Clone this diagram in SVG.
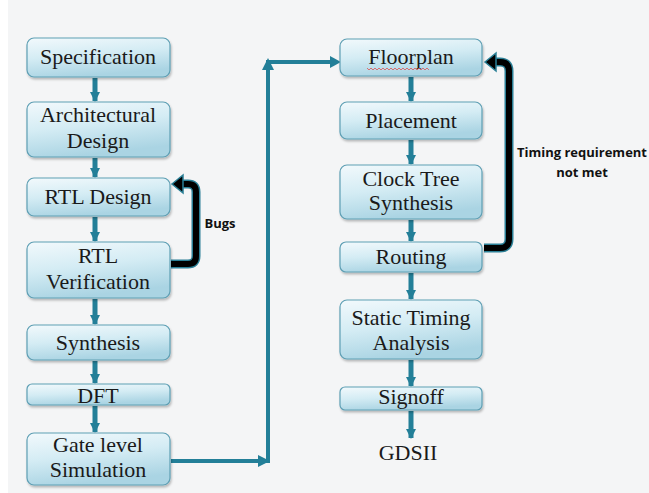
<svg xmlns="http://www.w3.org/2000/svg" width="649" height="493" viewBox="0 0 649 493">
<defs>
<linearGradient id="bg" x1="0" y1="0" x2="0.3" y2="1">
<stop offset="0" stop-color="#f2f9fc"/>
<stop offset="0.5" stop-color="#d4ecf4"/>
<stop offset="1" stop-color="#aad4e3"/>
</linearGradient>
<marker id="ah" viewBox="0 0 10 10" refX="9" refY="5" markerWidth="10" markerHeight="10" markerUnits="userSpaceOnUse" orient="auto">
<path d="M0,0 L10,5 L0,10 z" fill="#237f98"/>
</marker>
<filter id="sh" x="-10%" y="-10%" width="120%" height="130%">
<feDropShadow dx="1" dy="2" stdDeviation="1.2" flood-color="#000" flood-opacity="0.25"/>
</filter>
</defs>
<style>
.box{fill:url(#bg);stroke:#5e9fb4;stroke-width:1.2;filter:url(#sh)}
.t{font-family:"Liberation Serif","Times New Roman",serif;font-size:22px;fill:#1a1a1a;text-anchor:middle}
.lbl{font-family:"Open Sans","Liberation Sans",Arial,sans-serif;font-size:13px;font-weight:bold;fill:#111;text-anchor:middle}
.ar{stroke:#237f98;stroke-width:5;fill:none;marker-end:url(#ah)}
.fl{stroke:#237f98;stroke-width:4;fill:none}
.lo{stroke:#2a7f96;stroke-width:9;fill:none;stroke-linejoin:round}
.li{stroke:#000;stroke-width:6;fill:none;stroke-linejoin:round}
</style>
<rect width="649" height="493" fill="#ffffff"/>
<rect x="8" y="0" width="641" height="493" fill="#f4f5f6"/>

<g id="connectors">
<line class="ar" x1="95" y1="78" x2="95" y2="101"/>
<line class="ar" x1="95" y1="158" x2="95" y2="177"/>
<line class="ar" x1="95" y1="217" x2="95" y2="241"/>
<line class="ar" x1="95" y1="299" x2="95" y2="324"/>
<line class="ar" x1="95" y1="361" x2="95" y2="383"/>
<line class="ar" x1="95" y1="406" x2="95" y2="432"/>
<line class="ar" x1="411" y1="77" x2="411" y2="101"/>
<line class="ar" x1="411" y1="140" x2="411" y2="164"/>
<line class="ar" x1="411" y1="220" x2="411" y2="241"/>
<line class="ar" x1="411" y1="273" x2="411" y2="299"/>
<line class="ar" x1="411" y1="360" x2="411" y2="386"/>
<line class="ar" x1="411" y1="411" x2="411" y2="438"/>
<path class="fl" d="M171,461 H268 V62 H330" stroke-linejoin="miter"/>
<path d="M258,455 L270,461 L258,467 z" fill="#237f98"/>
<path d="M262,70 L268,58 L274,70 z" fill="#237f98"/>
<path d="M330,56 L341,62 L330,68 z" fill="#237f98"/>
<path class="lo" d="M171,264 H188 Q196,264 196,256 V192 Q196,184 188,184 H182"/>
<path class="li" d="M171,264 H188 Q196,264 196,256 V192 Q196,184 188,184 H182"/>
<path d="M172,184 L183,175 L183,193 z" fill="#000" stroke="#2a7f96" stroke-width="1.5"/>
<path class="lo" d="M484,248 H500 Q509,248 509,239 V71 Q509,62 500,62 H495"/>
<path class="li" d="M484,248 H500 Q509,248 509,239 V71 Q509,62 500,62 H495"/>
<path d="M485,62 L496,53 L496,71 z" fill="#000" stroke="#2a7f96" stroke-width="1.5"/>
</g>

<g id="spec"><rect class="box" x="27" y="38" width="143" height="39" rx="7"/><text class="t" x="98" y="64">Specification</text></g>
<g id="arch"><rect class="box" x="27" y="102" width="143" height="55" rx="7"/><text class="t" x="98" y="122">Architectural</text><text class="t" x="98" y="148">Design</text></g>
<g id="rtl"><rect class="box" x="27" y="178" width="143" height="38" rx="7"/><text class="t" x="98" y="204">RTL Design</text></g>
<g id="rtlver"><rect class="box" x="27" y="242" width="143" height="56" rx="7"/><text class="t" x="98" y="263">RTL</text><text class="t" x="98" y="289">Verification</text></g>
<g id="synth"><rect class="box" x="27" y="325" width="143" height="35" rx="7"/><text class="t" x="98" y="350">Synthesis</text></g>
<g id="dft"><rect class="box" x="27" y="384" width="143" height="21" rx="5"/><text class="t" x="98" y="403">DFT</text></g>
<g id="gls"><rect class="box" x="27" y="433" width="143" height="52" rx="7"/><text class="t" x="98" y="452">Gate level</text><text class="t" x="98" y="477">Simulation</text></g>

<g id="floorplan"><rect class="box" x="340" y="39" width="142" height="37" rx="7"/><text class="t" x="411" y="64">Floorplan</text>
<path d="M367,68 l2,2 l2,-2 l2,2 l2,-2 l2,2 l2,-2 l2,2 l2,-2 l2,2 l2,-2 l2,2 l2,-2 l2,2 l2,-2 l2,2 l2,-2 l2,2 l2,-2 l2,2 l2,-2 l2,2 l2,-2 l2,2 l2,-2 l2,2 l2,-2 l2,2 l2,-2 l2,2 l2,-2 l2,2" fill="none" stroke="#e05050" stroke-width="0.8"/></g>
<g id="placement"><rect class="box" x="340" y="102" width="142" height="37" rx="7"/><text class="t" x="411" y="128">Placement</text></g>
<g id="cts"><rect class="box" x="340" y="165" width="142" height="54" rx="7"/><text class="t" x="411" y="186">Clock Tree</text><text class="t" x="411" y="210">Synthesis</text></g>
<g id="routing"><rect class="box" x="340" y="242" width="142" height="30" rx="6"/><text class="t" x="411" y="264">Routing</text></g>
<g id="sta"><rect class="box" x="340" y="300" width="142" height="59" rx="7"/><text class="t" x="411" y="325">Static Timing</text><text class="t" x="411" y="350">Analysis</text></g>
<g id="signoff"><rect class="box" x="340" y="387" width="142" height="23" rx="5"/><text class="t" x="411" y="404">Signoff</text></g>
<g id="gdsii"><text class="t" x="408" y="460">GDSII</text></g>

<g id="labels">
<text class="lbl" x="220" y="228">Bugs</text>
<text class="lbl" x="582" y="157">Timing requirement</text>
<text class="lbl" x="582" y="177">not met</text>
</g>
</svg>
